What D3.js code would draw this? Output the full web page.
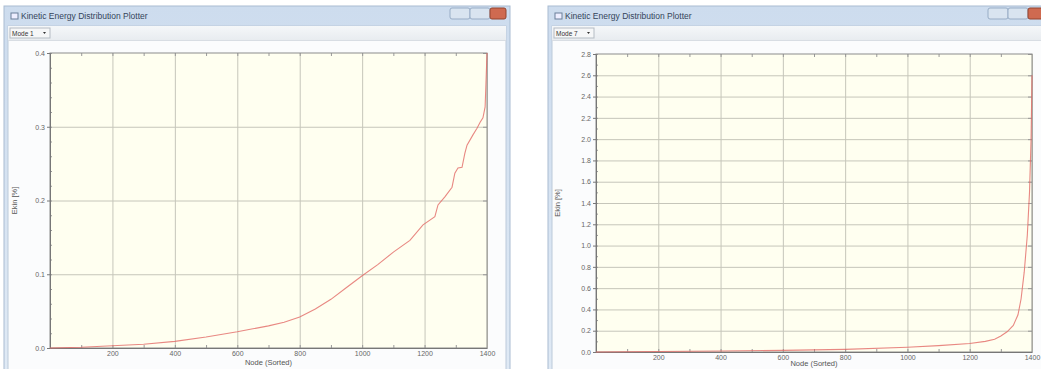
<!DOCTYPE html>
<html>
<head>
<meta charset="utf-8">
<script src="https://cdn.jsdelivr.net/npm/d3@7"></script>
<style>
  html, body { margin: 0; padding: 0; background: #fff; }
  svg { display: block; font-family: "Liberation Sans", Arial, sans-serif; }
  .tick text { fill: #666; font-size: 7px; }
  .grid line { stroke: #c6c6ba; stroke-width: 1; }
  .grid .domain { display: none; }
</style>
</head>
<body>
<div id="chart-area"></div>
<script>
const width = 1041,
  height = 369;

// mode 1 – sorted nodes vs kinetic energy share
const mode1Nodes = [0, 100, 200, 300, 400, 500, 600, 650, 700, 750, 800, 850, 900, 950, 1000, 1050, 1100, 1153, 1195, 1233, 1243, 1265, 1288, 1297, 1307, 1320, 1329, 1336, 1355, 1368, 1378, 1387, 1394, 1397, 1400];
const mode1Ekin = [0, 0.001, 0.003, 0.005, 0.009, 0.015, 0.022, 0.026, 0.030, 0.035, 0.042, 0.053, 0.066, 0.082, 0.098, 0.113, 0.130, 0.146, 0.167, 0.178, 0.194, 0.205, 0.218, 0.237, 0.244, 0.245, 0.264, 0.275, 0.289, 0.298, 0.306, 0.312, 0.327, 0.363, 0.400];

// mode 7
const mode7Nodes = [0, 200, 400, 600, 800, 1000, 1100, 1200, 1250, 1280, 1300, 1320, 1340, 1355, 1365, 1375, 1385, 1392, 1397, 1400];
const mode7Ekin = [0, 0.005, 0.01, 0.015, 0.025, 0.045, 0.06, 0.08, 0.1, 0.12, 0.15, 0.19, 0.25, 0.35, 0.5, 0.75, 1.1, 1.5, 2.0, 2.6];

const xTicks = [200, 400, 600, 800, 1000, 1200, 1400];
const mode1YTicks = [0, 0.1, 0.2, 0.3, 0.4];
const mode7YTicks = [0, 0.2, 0.4, 0.6, 0.8, 1.0, 1.2, 1.4, 1.6, 1.8, 2.0, 2.2, 2.4, 2.6, 2.8];

const windowTitle = "Kinetic Energy Distribution Plotter";
const xLabel = "Node (Sorted)";
const yLabel = "Ekin [%]";

const svg = d3.select("#chart-area").append("svg")
  .attr("width", width)
  .attr("height", height);

const defs = svg.append("defs");
const tg = defs.append("linearGradient").attr("id", "titlebar").attr("x1", 0).attr("x2", 0).attr("y1", 0).attr("y2", 1);
tg.append("stop").attr("offset", 0).attr("stop-color", "#cddcee");
tg.append("stop").attr("offset", 1).attr("stop-color", "#e0eaf5");
const tb = defs.append("linearGradient").attr("id", "toolbar").attr("x1", 0).attr("x2", 0).attr("y1", 0).attr("y2", 1);
tb.append("stop").attr("offset", 0).attr("stop-color", "#f5f7f9");
tb.append("stop").attr("offset", 1).attr("stop-color", "#e8ecf0");

function drawWindow(x, w, modeName) {
  const g = svg.append("g");
  g.append("rect").attr("x", x).attr("y", 6).attr("width", w).attr("height", 370)
    .attr("fill", "url(#titlebar)").attr("stroke", "#a9bcd2");
  g.append("rect").attr("x", x + 4).attr("y", 26).attr("width", w - 8).attr("height", 350)
    .attr("fill", "#fbfcfd").attr("stroke", "#bccada");
  g.append("rect").attr("x", x + 4).attr("y", 26).attr("width", w - 8).attr("height", 14)
    .attr("fill", "url(#toolbar)");
  g.append("line").attr("x1", x + 4).attr("x2", x + w - 4).attr("y1", 40.5).attr("y2", 40.5)
    .attr("stroke", "#d8dde3");
  // icon + title
  g.append("rect").attr("x", x + 7).attr("y", 13).attr("width", 7).attr("height", 6)
    .attr("fill", "#eef").attr("stroke", "#6a7f99");
  g.append("text").attr("x", x + 17).attr("y", 19).attr("font-size", 8.5)
    .attr("fill", "#34445a").text(windowTitle);
  // mode dropdown
  g.append("rect").attr("x", x + 6).attr("y", 28).attr("width", 40).attr("height", 10)
    .attr("fill", "#f6f7f8").attr("stroke", "#b5bcc4");
  g.append("text").attr("x", x + 8).attr("y", 36).attr("font-size", 6.5).attr("fill", "#333").text(modeName);
  g.append("path").attr("d", `M${x + 39},32 l3,0 l-1.5,2 z`).attr("fill", "#333");
  // caption buttons
  const bx = x + w - 60;
  g.append("rect").attr("x", bx).attr("y", 8).attr("width", 20).attr("height", 11)
    .attr("fill", "#d9e4f0").attr("stroke", "#98adc6").attr("rx", 2);
  g.append("rect").attr("x", bx + 20).attr("y", 8).attr("width", 20).attr("height", 11)
    .attr("fill", "#d9e4f0").attr("stroke", "#98adc6").attr("rx", 2);
  g.append("rect").attr("x", bx + 40).attr("y", 8).attr("width", 16).attr("height", 11)
    .attr("fill", "#cf6a50").attr("stroke", "#93442f").attr("rx", 2);
}

drawWindow(4, 506, "Mode 1");
drawWindow(548, 500, "Mode 7");

function drawChart(cfg) {
  const x = d3.scaleLinear().domain([0, 1400]).range([cfg.left, cfg.right]);
  const y = d3.scaleLinear().domain([0, cfg.yMax]).range([cfg.bottom, cfg.top]);
  const g = svg.append("g");

  g.append("rect")
    .attr("x", cfg.left).attr("y", cfg.top)
    .attr("width", cfg.right - cfg.left).attr("height", cfg.bottom - cfg.top)
    .attr("fill", "#fffff0");

  // grid
  g.append("g").attr("class", "grid")
    .attr("transform", `translate(0,${cfg.bottom})`)
    .call(d3.axisBottom(x).tickValues(xTicks).tickSize(-(cfg.bottom - cfg.top)).tickFormat(""));
  g.append("g").attr("class", "grid")
    .attr("transform", `translate(${cfg.left},0)`)
    .call(d3.axisLeft(y).tickValues(cfg.yTicks.slice(1, -1)).tickSize(-(cfg.right - cfg.left)).tickFormat(""));

  // minor ticks
  g.append("g").attr("transform", `translate(${cfg.left},0)`)
    .call(d3.axisRight(y).tickValues(d3.range(0, cfg.yMax + 1e-9, cfg.yMinor)).tickSize(2).tickFormat(""))
    .call(a => a.selectAll("line").attr("stroke", "#999"))
    .call(a => a.select(".domain").remove());
  g.append("g").attr("transform", `translate(${cfg.right},0)`)
    .call(d3.axisLeft(y).tickValues(cfg.yTicks).tickSize(4).tickFormat(""))
    .call(a => a.selectAll("line").attr("stroke", "#999"))
    .call(a => a.select(".domain").remove());
  g.append("g").attr("transform", `translate(0,${cfg.bottom})`)
    .call(d3.axisTop(x).tickValues(d3.range(100, 1400, 100)).tickSize(3).tickFormat(""))
    .call(a => a.selectAll("line").attr("stroke", "#999"))
    .call(a => a.select(".domain").remove());
  g.append("g").attr("transform", `translate(0,${cfg.top})`)
    .call(d3.axisBottom(x).tickValues(d3.range(100, 1400, 100)).tickSize(3).tickFormat(""))
    .call(a => a.selectAll("line").attr("stroke", "#999"))
    .call(a => a.select(".domain").remove());

  // frame
  g.append("rect")
    .attr("x", cfg.left).attr("y", cfg.top)
    .attr("width", cfg.right - cfg.left).attr("height", cfg.bottom - cfg.top)
    .attr("fill", "none").attr("stroke", "#8c8c8c");

  // axes with labels
  g.append("g").attr("transform", `translate(${cfg.left},0)`)
    .call(d3.axisLeft(y).tickValues(cfg.yTicks).tickSize(3).tickPadding(2).tickFormat(d3.format(".1f")))
    .call(a => a.selectAll("line").attr("stroke", "#777"))
    .call(a => a.select(".domain").attr("stroke", "#777"));
  g.append("g").attr("transform", `translate(0,${cfg.bottom})`)
    .call(d3.axisBottom(x).tickValues(xTicks).tickSize(0).tickPadding(3).tickFormat(d3.format("d")))
    .call(a => a.select(".domain").attr("stroke", "#777"));

  // curve
  const line = d3.line().x(d => x(d[0])).y(d => y(d[1]));
  g.append("path")
    .datum(d3.zip(cfg.nodes, cfg.values))
    .attr("fill", "none")
    .attr("stroke", "#e26a66")
    .attr("stroke-opacity", 0.8)
    .attr("stroke-width", 1.1)
    .attr("d", line);

  g.append("text")
    .attr("x", (cfg.left + cfg.right) / 2).attr("y", cfg.xLabelY)
    .attr("text-anchor", "middle").attr("font-size", 7.5).attr("fill", "#555")
    .text(xLabel);
  g.append("text")
    .attr("transform", `translate(${cfg.yLabelX},${(cfg.top + cfg.bottom) / 2}) rotate(-90)`)
    .attr("text-anchor", "middle").attr("font-size", 7.5).attr("fill", "#555")
    .text(yLabel);
}

drawChart({
  left: 50, right: 487, top: 53, bottom: 348,
  yMax: 0.4, yTicks: mode1YTicks, yMinor: 0.02,
  nodes: mode1Nodes, values: mode1Ekin, yLabelX: 17, xLabelY: 365
});

drawChart({
  left: 596, right: 1032, top: 54, bottom: 352,
  yMax: 2.8, yTicks: mode7YTicks, yMinor: 0.1,
  nodes: mode7Nodes, values: mode7Ekin, yLabelX: 560, xLabelY: 366
});
</script>
</body>
</html>
